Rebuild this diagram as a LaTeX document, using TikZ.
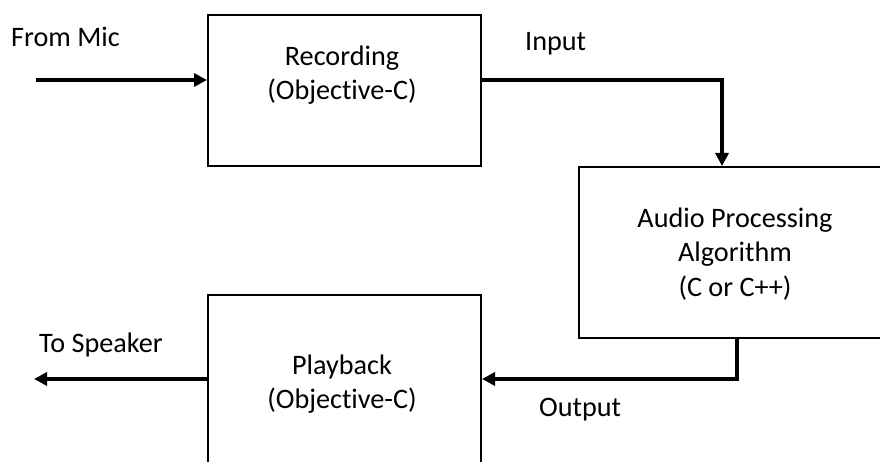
\documentclass[tikz,border=0pt]{standalone}
\usepackage{fontspec}
\setmainfont{Carlito}[Ligatures=NoCommon]
\usetikzlibrary{arrows.meta}
\begin{document}
\begin{tikzpicture}[x=1pt,y=-1pt,
  box/.style={draw=black, line width=2pt, fill=white},
  lbl/.style={font=\fontsize{28.2}{34.5}\selectfont, align=center, inner sep=0pt},
  conn/.style={line width=3.2pt, -{Triangle[length=13pt,width=13pt]}}]
\useasboundingbox (0,0) rectangle (880,462);
\clip (0,0) rectangle (880,462);
% boxes
\node[box, minimum width=273pt, minimum height=151pt, inner sep=0pt, anchor=north west] (rec) at (207,14.5) {};
\node[box, minimum width=330pt, minimum height=171pt, inner sep=0pt, anchor=north west] (alg) at (578,166) {};
\node[box, minimum width=273pt, minimum height=200pt, inner sep=0pt, anchor=north west] (play) at (207,294) {};
% box texts
\node[lbl] (rect) at (342,75) {Recording\\(Objective-C)};
\node[lbl] (algt) at (735,254) {Audio Processing\\Algorithm\\(C or C++)};
\node[lbl] (playt) at (342,384) {Playback\\(Objective-C)};
% free ends
\coordinate (mic) at (36,80);
\coordinate (spk) at (34,379);
\coordinate (c1) at (722,80);
\coordinate (c2) at (737,379);
% connectors
\draw[conn] (mic) -- (rec.west |- mic);
\draw[conn] (rec.east |- c1) -- (c1) -- (c1 |- alg.north);
\draw[conn] (c2 |- alg.south) -- (c2) -- (play.east |- c2);
\draw[conn] (play.west |- spk) -- (spk);
% labels
\node[lbl, anchor=base west] (fm) at (11,47) {From Mic};
\node[lbl, anchor=base west] (inp) at (525,51) {Input};
\node[lbl, anchor=base west] (ts) at (39,352) {To Speaker};
\node[lbl, anchor=base west] (out) at (539,416) {Output};
\end{tikzpicture}
\end{document}
